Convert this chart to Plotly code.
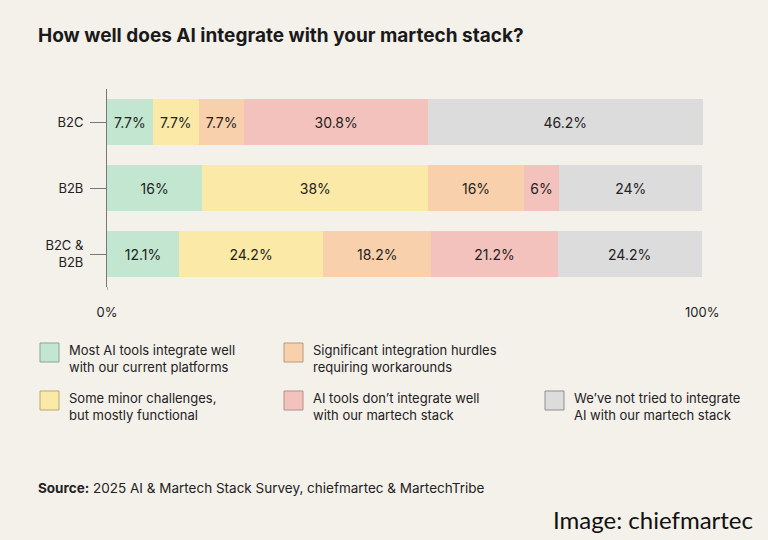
import plotly.graph_objects as go

categories = ["B2C", "B2B", "B2C &<br>B2B"]
series_names = [
    "Most AI tools integrate well<br>with our current platforms",
    "Some minor challenges,<br>but mostly functional",
    "Significant integration hurdles<br>requiring workarounds",
    "AI tools don’t integrate well<br>with our martech stack",
    "We’ve not tried to integrate<br>AI with our martech stack",
]
values = [
    [7.7, 16, 12.1],
    [7.7, 38, 24.2],
    [7.7, 16, 18.2],
    [30.8, 6, 21.2],
    [46.2, 24, 24.2],
]
labels = [
    ["7.7%", "16%", "12.1%"],
    ["7.7%", "38%", "24.2%"],
    ["7.7%", "16%", "18.2%"],
    ["30.8%", "6%", "21.2%"],
    ["46.2%", "24%", "24.2%"],
]
colors = ["#c2e6cf", "#fbe9a7", "#f8d0ab", "#f4c2bd", "#dcdcdc"]
edge = ["#8aa595", "#b8a96e", "#b89a7e", "#b48e8a", "#8f8f8f"]
BG = "#f4f1eb"
FONT = "Inter"

fig = go.Figure()
for v, t, c in zip(values, labels, colors):
    fig.add_bar(y=categories, x=v, orientation="h", marker=dict(color=c, line=dict(width=0)),
                text=t, textposition="inside", insidetextanchor="middle", constraintext="none",
                textfont=dict(family=FONT, size=14, color="#222"), width=0.7, showlegend=False,
                cliponaxis=False)

W, H = 768, 540
L, R, T, B = 107, 64, 89, 253
pw, ph = W - L - R, H - T - B
def px(x): return (x - L) / pw
def py(y): return (H - B - y) / ph

shapes, anns = [], []
legend_pos = [(40, 343), (40, 391), (284, 343), (284, 391), (545, 391)]
for (lx, ly), name, c, e in zip(legend_pos, series_names, colors, edge):
    shapes.append(dict(type="rect", xref="paper", yref="paper", x0=px(lx), x1=px(lx + 19),
                       y0=py(ly + 19), y1=py(ly), fillcolor=c, line=dict(color=e, width=1)))
    anns.append(dict(xref="paper", yref="paper", x=px(lx + 27), y=py(ly - 3), xanchor="left", yanchor="top",
                     text=name, showarrow=False, align="left",
                     font=dict(family=FONT, size=13, color="#222")))
anns.append(dict(xref="paper", yref="paper", x=px(36), y=py(35), xanchor="left", yanchor="middle",
                 text="<b>How well does AI integrate with your martech stack?</b>", showarrow=False,
                 font=dict(family=FONT, size=19, color="#1a1a1a")))
anns.append(dict(xref="paper", yref="paper", x=px(36), y=py(488), xanchor="left", yanchor="middle",
                 text="<b>Source:</b> 2025 AI & Martech Stack Survey, chiefmartec & MartechTribe", showarrow=False,
                 font=dict(family=FONT, size=13.5, color="#222")))
anns.append(dict(xref="paper", yref="paper", x=px(755), y=py(519), xanchor="right", yanchor="middle",
                 text="Image: chiefmartec", showarrow=False,
                 font=dict(family="Lato", size=24, color="#111")))

fig.update_layout(
    width=W, height=H, barmode="stack", paper_bgcolor=BG, plot_bgcolor=BG,
    margin=dict(l=L, r=R, t=T, b=B), bargap=0.3,
    font=dict(family=FONT, color="#222"),
    shapes=shapes, annotations=anns,
    xaxis=dict(range=[0, 100.3], tickvals=[0, 100], ticktext=["0%", "100%"], showgrid=False, zeroline=False,
               showline=False, ticks="", tickfont=dict(size=13), ticklabelstandoff=16, fixedrange=True),
    yaxis=dict(autorange="reversed", showgrid=False, zeroline=False, showline=True, linecolor="#777",
               ticks="outside", ticklen=16, tickcolor="#777", tickfont=dict(size=13),
               ticklabelstandoff=4),
)
fig.add_shape(type="line", xref="x", yref="paper", x0=0, x1=0, y0=py(290), y1=0,
              line=dict(color="#777", width=1))
fig.write_html("out.html", config={"displayModeBar": False},
               post_script="document.body.style.margin='0';document.body.style.background='#f4f1eb';")
